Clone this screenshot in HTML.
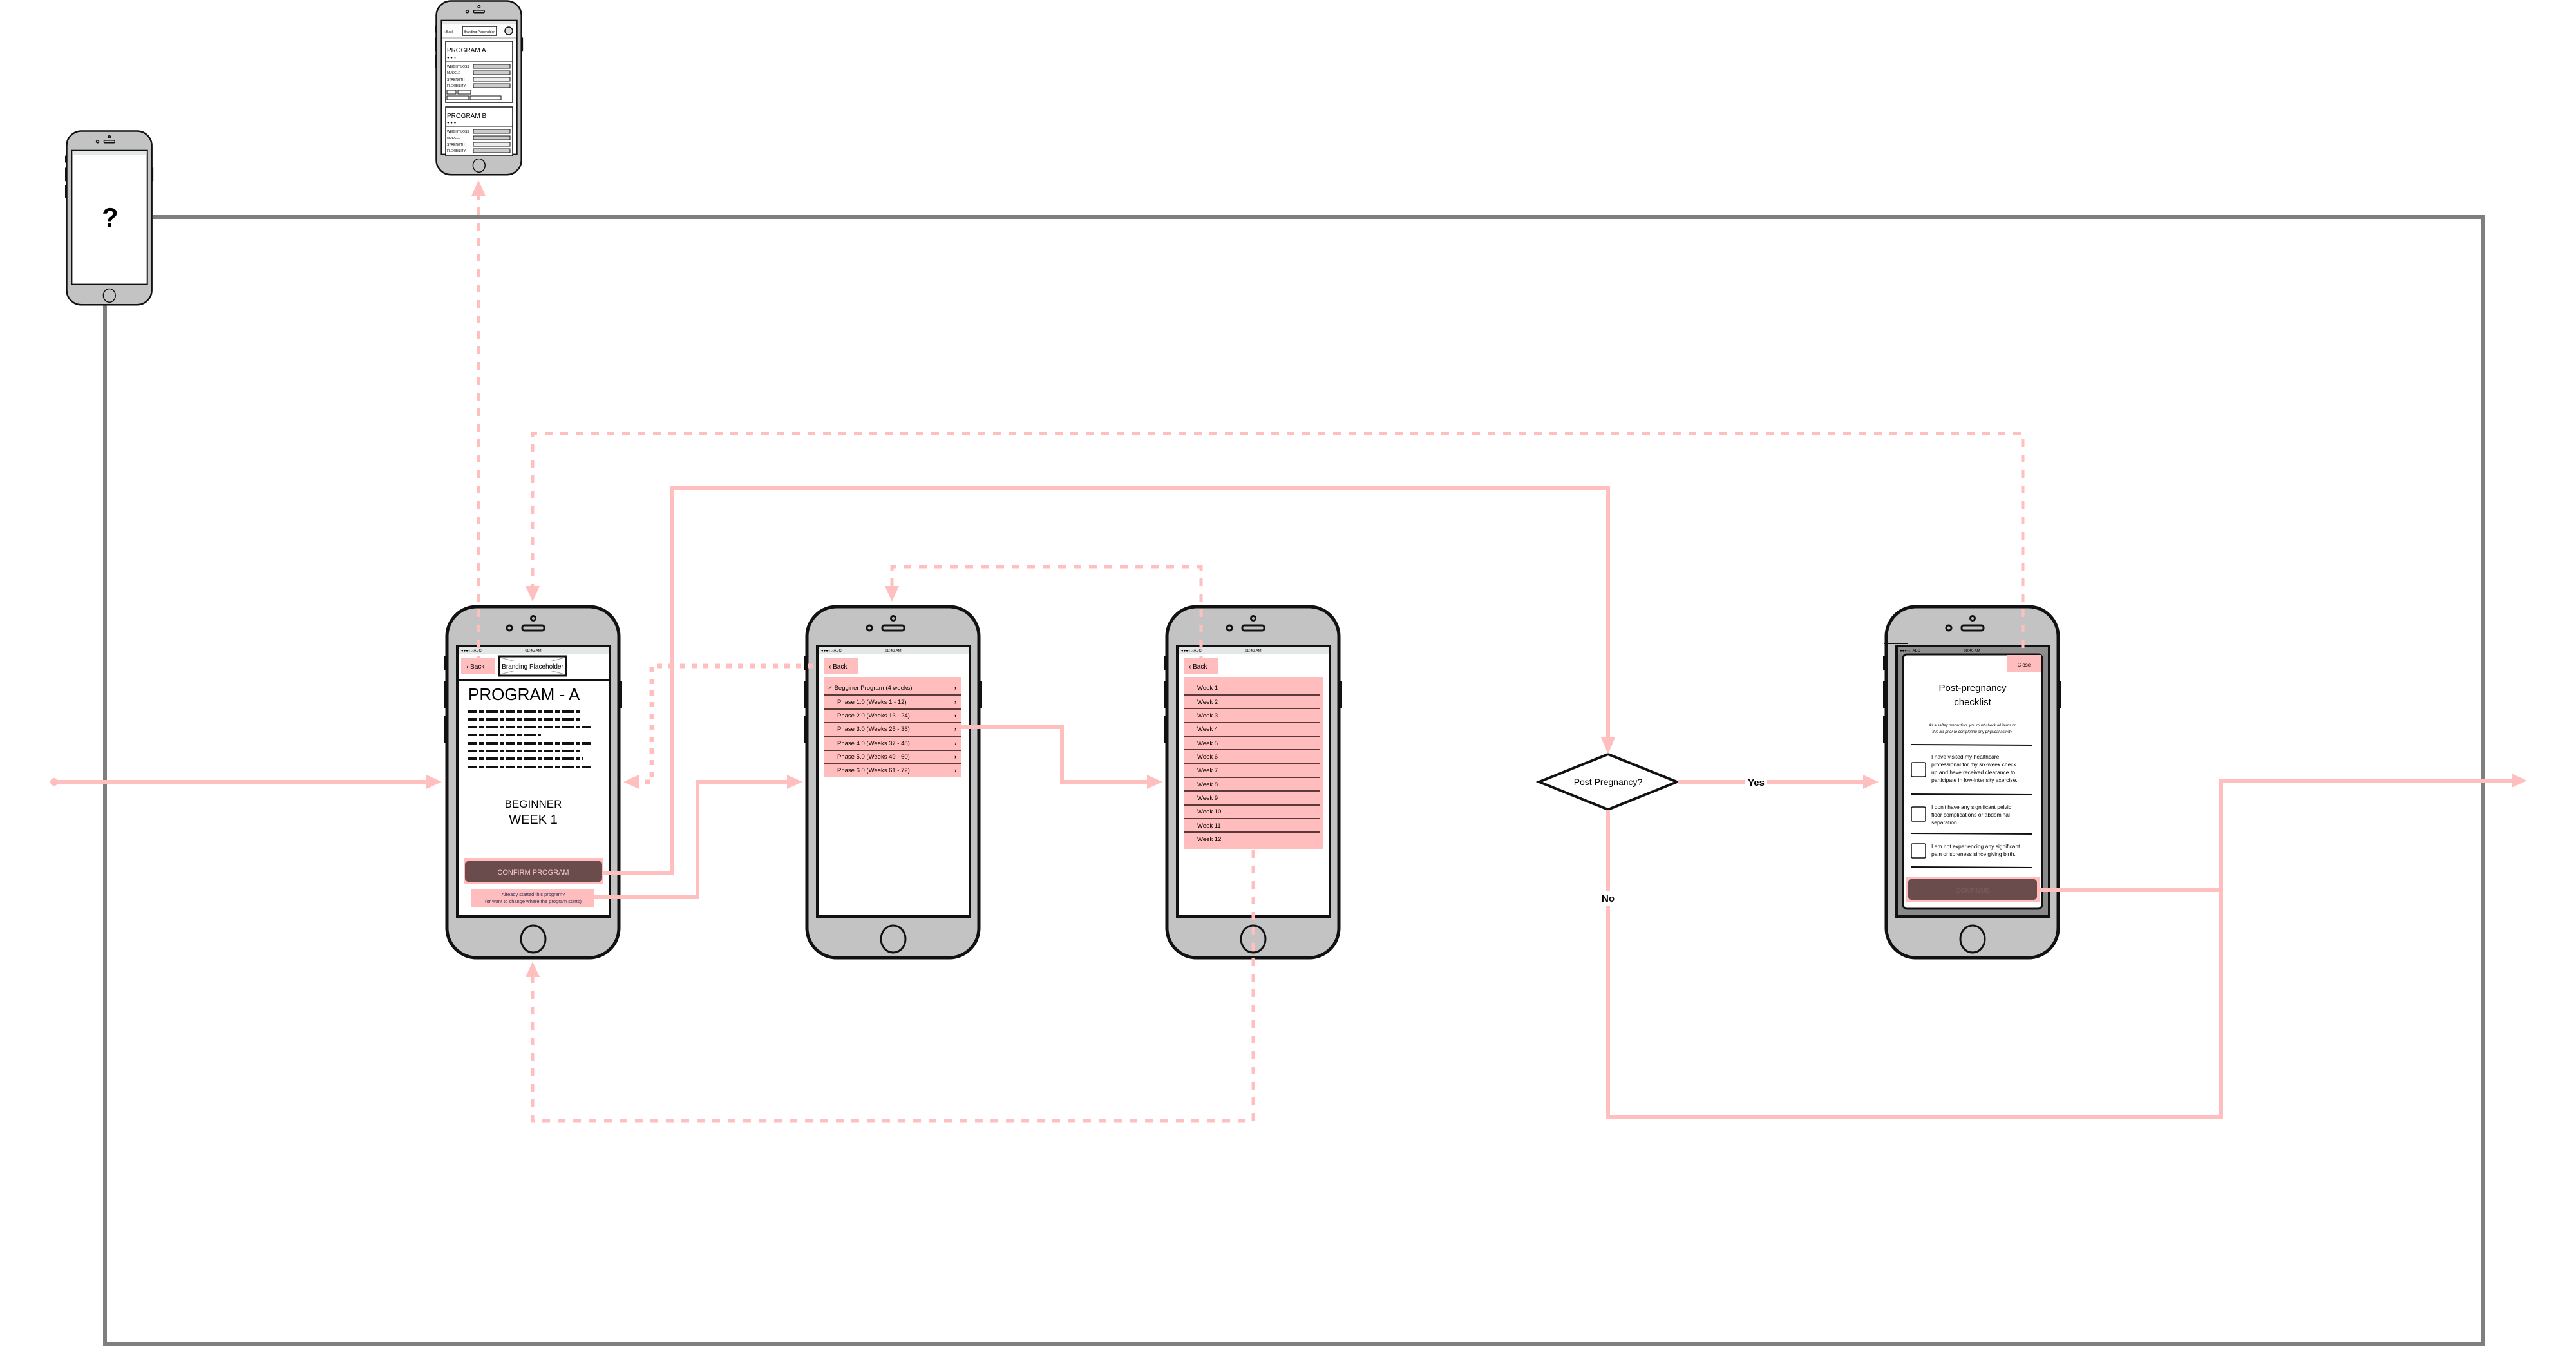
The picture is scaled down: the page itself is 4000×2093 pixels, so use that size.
<!DOCTYPE html>
<html><head><meta charset="utf-8"><style>
html,body{margin:0;padding:0;background:#fff;}
svg{display:block;font-family:"Liberation Sans",sans-serif;}
</style></head><body>
<svg width="4000" height="2093" viewBox="0 0 4000 2093" xmlns="http://www.w3.org/2000/svg">
<defs>
<g id="phone">
<rect x="-2" y="80" width="6" height="22" fill="#111"/>
<rect x="-2" y="118" width="6" height="42" fill="#111"/>
<rect x="-2" y="172" width="6" height="42" fill="#111"/>
<rect x="269" y="118" width="6" height="42" fill="#111"/>
<rect x="3" y="3" width="267" height="545" rx="46" fill="#c3c3c3" stroke="#111" stroke-width="5"/>
<circle cx="137" cy="21" r="3.5" fill="none" stroke="#111" stroke-width="3"/>
<circle cx="100" cy="36" r="4" fill="none" stroke="#111" stroke-width="3"/>
<rect x="120" y="32" width="34" height="8" rx="3" fill="none" stroke="#111" stroke-width="3"/>
<rect x="19" y="64" width="237" height="420" fill="#fff" stroke="#111" stroke-width="4"/>
<rect x="21" y="66" width="233" height="11" fill="#e4e7e7"/>
<ellipse cx="137" cy="519" rx="19" ry="21" fill="none" stroke="#111" stroke-width="3"/>
</g>
</defs>

<!-- gray loop -->
<polyline points="237,337 3855,337 3855,2087 163,2087 163,474" fill="none" stroke="#7f7f7f" stroke-width="6"/>

<!-- question phone -->
<g transform="translate(102,202) scale(0.495)"><use href="#phone"/></g>
<text x="171" y="352" font-size="42" font-weight="bold" text-anchor="middle">?</text>

<!-- top small phone -->
<g transform="translate(676,0) scale(0.495)"><use href="#phone"/></g>
<g font-size="5">
<text x="690" y="51">‹ Back</text>
<rect x="718" y="41" width="53" height="14" fill="#fff" stroke="#111" stroke-width="1.5"/>
<text x="744" y="51" text-anchor="middle" font-size="5">Branding Placeholder</text>
<circle cx="790" cy="48" r="6" fill="#ddd" stroke="#111" stroke-width="1.5"/>
<line x1="686" y1="59" x2="802" y2="59" stroke="#ccc" stroke-width="2"/>
<rect x="692" y="64" width="104" height="95" fill="#fff" stroke="#111" stroke-width="1.5"/>
<text x="694" y="81" font-size="10">PROGRAM A</text>
<text x="694" y="91" font-size="6">● ● ○</text>
<line x1="692" y1="95" x2="796" y2="95" stroke="#111" stroke-width="1"/>
<text x="694" y="105">WEIGHT LOSS</text><rect x="735" y="100" width="57" height="6" fill="#ccc" stroke="#111" stroke-width="1"/>
<text x="694" y="115">MUSCLE</text><rect x="735" y="110" width="57" height="6" fill="#ccc" stroke="#111" stroke-width="1"/>
<text x="694" y="125">STRENGTH</text><rect x="735" y="120" width="57" height="6" fill="#eee" stroke="#111" stroke-width="1"/>
<text x="694" y="135">FLEXIBILITY</text><rect x="735" y="130" width="57" height="6" fill="#ccc" stroke="#111" stroke-width="1"/>
<rect x="694" y="140" width="14" height="6" fill="none" stroke="#111" stroke-width="1"/>
<rect x="711" y="140" width="20" height="6" fill="none" stroke="#111" stroke-width="1"/>
<rect x="694" y="149" width="34" height="6" fill="none" stroke="#111" stroke-width="1"/>
<rect x="730" y="149" width="48" height="6" fill="none" stroke="#111" stroke-width="1"/>
<rect x="692" y="166" width="104" height="76" fill="#fff" stroke="#111" stroke-width="1.5"/>
<text x="694" y="183" font-size="10">PROGRAM B</text>
<text x="694" y="192" font-size="6">● ● ●</text>
<line x1="692" y1="196" x2="796" y2="196" stroke="#111" stroke-width="1"/>
<text x="694" y="206">WEIGHT LOSS</text><rect x="735" y="201" width="57" height="6" fill="#ccc" stroke="#111" stroke-width="1"/>
<text x="694" y="216">MUSCLE</text><rect x="735" y="211" width="57" height="6" fill="#ccc" stroke="#111" stroke-width="1"/>
<text x="694" y="226">STRENGTH</text><rect x="735" y="221" width="57" height="6" fill="#eee" stroke="#111" stroke-width="1"/>
<text x="694" y="236">FLEXIBILITY</text><rect x="735" y="231" width="57" height="6" fill="#ccc" stroke="#111" stroke-width="1"/>
</g>
<rect x="680" y="242" width="127" height="5" fill="#c3c3c3"/>

<!-- Phone A -->
<g transform="translate(691,939)"><use href="#phone"/></g>
<g font-size="6"><text x="716" y="1012">●●●○○ ABC</text><text x="828" y="1012" text-anchor="middle">08:45 AM</text></g>
<rect x="716" y="1021" width="53" height="26" fill="#ffbdbd"/>
<text x="724" y="1038" font-size="10">‹ Back</text>
<rect x="775" y="1019" width="104" height="30" fill="#fff" stroke="#111" stroke-width="3"/>
<line x1="777" y1="1021" x2="877" y2="1047" stroke="#999" stroke-width="1"/><line x1="777" y1="1047" x2="877" y2="1021" stroke="#999" stroke-width="1"/>
<rect x="781" y="1026" width="92" height="16" fill="#fff"/>
<text x="827" y="1038" font-size="10" text-anchor="middle">Branding Placeholder</text>
<line x1="712" y1="1056" x2="945" y2="1056" stroke="#111" stroke-width="3"/>
<text x="727" y="1087" font-size="26">PROGRAM - A</text>
<g stroke="#111" stroke-width="4" stroke-dasharray="14 3 8 3 18 4 6 3">
<line x1="727" y1="1105" x2="900" y2="1105"/><line x1="727" y1="1117" x2="900" y2="1117"/>
<line x1="727" y1="1129" x2="920" y2="1129"/><line x1="727" y1="1141" x2="840" y2="1141"/>
<line x1="727" y1="1154" x2="920" y2="1154"/><line x1="727" y1="1166" x2="900" y2="1166"/>
<line x1="727" y1="1178" x2="905" y2="1178"/><line x1="727" y1="1191" x2="920" y2="1191"/>
</g>
<text x="828" y="1254" font-size="17" text-anchor="middle">BEGINNER</text>
<text x="828" y="1279" font-size="20" text-anchor="middle">WEEK 1</text>
<rect x="721" y="1332" width="216" height="41" fill="#ffbdbd"/>
<rect x="722" y="1337" width="213" height="32" rx="5" fill="#6b4c4c"/>
<text x="828" y="1358" font-size="11" fill="#f3c9c9" text-anchor="middle">CONFIRM PROGRAM</text>
<rect x="731" y="1381" width="192" height="27" fill="#ffbdbd"/>
<g font-size="7.5" fill="#2f2f5a" text-anchor="middle" text-decoration="underline"><text x="828" y="1391">Already started this program?</text><text x="828" y="1402">(or want to change where the program starts)</text></g>

<!-- Phone 2 -->
<g transform="translate(1250,939)"><use href="#phone"/></g>
<g font-size="6"><text x="1275" y="1012">●●●○○ ABC</text><text x="1387" y="1012" text-anchor="middle">08:46 AM</text></g>
<rect x="1280" y="1022" width="52" height="25" fill="#ffbdbd"/>
<text x="1287" y="1038" font-size="10">‹ Back</text>
<rect x="1280" y="1051" width="212" height="156" fill="#ffbdbd"/>
<g stroke="#5a3a3a" stroke-width="2"><line x1="1280" y1="1079" x2="1492" y2="1079"/><line x1="1280" y1="1101" x2="1492" y2="1101"/><line x1="1280" y1="1122" x2="1492" y2="1122"/><line x1="1280" y1="1143" x2="1492" y2="1143"/><line x1="1280" y1="1165" x2="1492" y2="1165"/><line x1="1280" y1="1186" x2="1492" y2="1186"/></g>
<g font-size="9.5"><text x="1285" y="1071">✓ Begginer Program (4 weeks)</text>
<text x="1300" y="1093">Phase 1.0 (Weeks 1 - 12)</text><text x="1300" y="1114">Phase 2.0 (Weeks 13 - 24)</text><text x="1300" y="1135">Phase 3.0 (Weeks 25 - 36)</text><text x="1300" y="1157">Phase 4.0 (Weeks 37 - 48)</text><text x="1300" y="1178">Phase 5.0 (Weeks 49 - 60)</text><text x="1300" y="1199">Phase 6.0 (Weeks 61 - 72)</text>
<g font-weight="bold"><text x="1482" y="1071">›</text><text x="1482" y="1093">›</text><text x="1482" y="1114">›</text><text x="1482" y="1135">›</text><text x="1482" y="1157">›</text><text x="1482" y="1178">›</text><text x="1482" y="1199">›</text></g></g>

<!-- Phone 3 -->
<g transform="translate(1809,939)"><use href="#phone"/></g>
<g font-size="6"><text x="1834" y="1012">●●●○○ ABC</text><text x="1946" y="1012" text-anchor="middle">08:46 AM</text></g>
<rect x="1839" y="1022" width="52" height="25" fill="#ffbdbd"/>
<text x="1846" y="1038" font-size="10">‹ Back</text>
<rect x="1839" y="1051" width="215" height="267" fill="#ffbdbd"/>
<g stroke="#5a3a3a" stroke-width="2"><line x1="1839" y1="1079" x2="2050" y2="1079"/><line x1="1839" y1="1100" x2="2050" y2="1100"/><line x1="1839" y1="1122" x2="2050" y2="1122"/><line x1="1839" y1="1143" x2="2050" y2="1143"/><line x1="1839" y1="1164" x2="2050" y2="1164"/><line x1="1839" y1="1186" x2="2050" y2="1186"/><line x1="1839" y1="1207" x2="2050" y2="1207"/><line x1="1839" y1="1228" x2="2050" y2="1228"/><line x1="1839" y1="1250" x2="2050" y2="1250"/><line x1="1839" y1="1271" x2="2050" y2="1271"/><line x1="1839" y1="1292" x2="2050" y2="1292"/></g>
<g font-size="9.5"><text x="1859" y="1071">Week 1</text><text x="1859" y="1093">Week 2</text><text x="1859" y="1114">Week 3</text><text x="1859" y="1135">Week 4</text><text x="1859" y="1157">Week 5</text><text x="1859" y="1178">Week 6</text><text x="1859" y="1199">Week 7</text><text x="1859" y="1221">Week 8</text><text x="1859" y="1242">Week 9</text><text x="1859" y="1263">Week 10</text><text x="1859" y="1285">Week 11</text><text x="1859" y="1306">Week 12</text></g>

<!-- Phone 5 -->
<g transform="translate(2926,939)"><use href="#phone"/></g>
<rect x="2945" y="1003" width="237" height="420" fill="#8a8a8a" stroke="#111" stroke-width="4"/>
<rect x="2947" y="1005" width="233" height="10" fill="#8f8f8f"/>
<g font-size="6"><text x="2950" y="1012">●●●○○ ABC</text><text x="3062" y="1012" text-anchor="middle">08:46 AM</text></g>
<rect x="2955" y="1016" width="216" height="395" rx="6" fill="#fff" stroke="#111" stroke-width="3"/>
<line x1="2926" y1="999" x2="2962" y2="999" stroke="#111" stroke-width="2"/>
<rect x="3117" y="1017" width="52" height="26" fill="#ffbdbd"/>
<text x="3143" y="1035" font-size="8" text-anchor="middle">Close</text>
<text x="3063" y="1073" font-size="15" text-anchor="middle">Post-pregnancy</text>
<text x="3063" y="1095" font-size="15" text-anchor="middle">checklist</text>
<g font-size="6" font-style="italic" text-anchor="middle"><text x="3063" y="1128">As a saftey precaution, you must check all items on</text><text x="3063" y="1138">this list prior to completing any physical activity.</text></g>
<g stroke="#111" stroke-width="2"><line x1="2967" y1="1156" x2="3156" y2="1157"/><line x1="2967" y1="1233" x2="3156" y2="1234"/><line x1="2967" y1="1294" x2="3156" y2="1295"/><line x1="2967" y1="1346" x2="3156" y2="1347"/></g>
<g fill="#fff" stroke="#111" stroke-width="1.5"><rect x="2968" y="1184" width="22" height="22" rx="2"/><rect x="2968" y="1253" width="22" height="22" rx="2"/><rect x="2968" y="1310" width="22" height="22" rx="2"/></g>
<g font-size="8.5"><text x="2999" y="1178">I have visited my healthcare</text><text x="2999" y="1190">professional for my six-week check</text><text x="2999" y="1202">up and have received clearance to</text><text x="2999" y="1214">participate in low-intensity exercise.</text>
<text x="2999" y="1256">I don't have any significant pelvic</text><text x="2999" y="1268">floor complications or abdominal</text><text x="2999" y="1280">separation.</text>
<text x="2999" y="1317">I am not experiencing any significant</text><text x="2999" y="1329">pain or soreness since giving birth.</text></g>
<rect x="2959" y="1362" width="208" height="38" fill="#ffbdbd"/>
<rect x="2963" y="1365" width="200" height="32" rx="5" fill="#6b4c4c"/>
<text x="3063" y="1386" font-size="10" fill="#7e5c5c" text-anchor="middle">CONTINUE</text>

<!-- Diamond -->
<polygon points="2497,1171 2604,1214 2497,1257 2390,1214" fill="#fff" stroke="#111" stroke-width="4"/>
<text x="2497" y="1219" font-size="14" text-anchor="middle">Post Pregnancy?</text>

<!-- Solid pink connectors -->
<g fill="none" stroke="#ffbfbf" stroke-width="6">
<line x1="84" y1="1214" x2="664" y2="1214"/>
<polyline points="936,1355 1044,1355 1044,758 2497,758 2497,1147"/>
<polyline points="923,1393 1083,1393 1083,1214 1224,1214"/>
<polyline points="1492,1129 1649,1129 1649,1214 1783,1214"/>
<line x1="2605" y1="1214" x2="2895" y2="1214"/>
<polyline points="2497,1258 2497,1735 3449,1735 3449,1212 3902,1212"/>
<line x1="3166" y1="1382" x2="3449" y2="1382"/>
</g>
<circle cx="84" cy="1214" r="6" fill="#ffbfbf"/>
<g fill="#ffbfbf">
<polygon points="686,1214 662,1203 662,1225"/>
<polygon points="2497,1171 2486,1145 2508,1145"/>
<polygon points="1246,1214 1222,1203 1222,1225"/>
<polygon points="1805,1214 1781,1203 1781,1225"/>
<polygon points="2917,1214 2893,1203 2893,1225"/>
<polygon points="3924,1212 3900,1201 3900,1223"/>
</g>
<rect x="2710" y="1203" width="34" height="22" fill="#fff"/>
<text x="2727" y="1220" font-size="15" font-weight="bold" text-anchor="middle">Yes</text>
<rect x="2482" y="1384" width="30" height="22" fill="#fff"/>
<text x="2497" y="1400" font-size="15" font-weight="bold" text-anchor="middle">No</text>

<!-- Dashed connectors -->
<g fill="none" stroke="#ffbfbf" stroke-width="5" stroke-dasharray="12 12">
<line x1="743" y1="1030" x2="743" y2="302"/>
<polyline points="3141,1030 3141,673 827,673 827,912"/>
<polyline points="1865,1030 1865,880 1385,880 1385,912"/>
<polyline points="1946,1320 1946,1740 827,1740 827,1515"/>
</g>
<polyline points="1262,1034 1012,1034 1012,1214 990,1214" fill="none" stroke="#ffbfbf" stroke-width="7" stroke-dasharray="8 10"/>
<g fill="#ffbfbf">
<polygon points="743,280 732,304 754,304"/>
<polygon points="827,934 816,910 838,910"/>
<polygon points="1385,934 1374,910 1396,910"/>
<polygon points="827,1493 816,1517 838,1517"/>
<polygon points="968,1214 992,1203 992,1225"/>
</g>
</svg>
</body></html>
